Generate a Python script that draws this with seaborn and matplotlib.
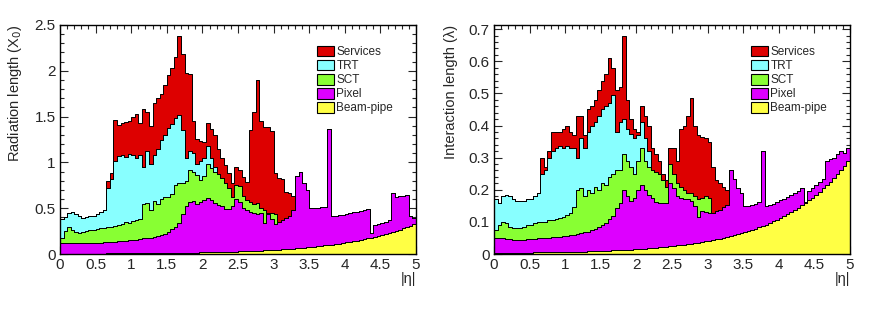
import numpy as np
import pandas as pd
import matplotlib
matplotlib.use("Agg")
import matplotlib.pyplot as plt
from matplotlib.patches import Patch
from matplotlib.ticker import MultipleLocator, FormatStrFormatter
import seaborn as sns

# Cumulative tops of each stacked layer, in bins of 0.05 in |eta| (0 -> 5).
# Upper layers stop where they end; beyond that they sit on the layer below.
layers = ["Services", "TRT", "SCT", "Pixel", "Beam-pipe"]
colors = ["#dd0000", "#88ffff", "#88ff33", "#dd00ff", "#ffff44"]

# ---- Radiation length (X0) ----
rad_beam = [0.0045, 0.0045, 0.0045, 0.0045, 0.0045, 0.0045, 0.0045, 0.0045, 0.005, 0.005,
            0.0052, 0.0053, 0.0054, 0.0056, 0.0057, 0.0059, 0.0061, 0.0063, 0.0065, 0.0068,
            0.0071, 0.0073, 0.0077, 0.008, 0.0083, 0.0087, 0.0091, 0.0095, 0.0099, 0.0104,
            0.0108, 0.0113, 0.0118, 0.0124, 0.0129, 0.0135, 0.0142, 0.0149, 0.0156, 0.0164,
            0.0173, 0.0182, 0.0191, 0.0201, 0.0212, 0.0223, 0.0234, 0.0245, 0.0258, 0.027,
            0.0284, 0.0298, 0.0313, 0.0329, 0.0345, 0.0363, 0.0381, 0.0402, 0.0422, 0.0443,
            0.0466, 0.0489, 0.0514, 0.054, 0.0568, 0.0596, 0.0627, 0.0659, 0.0693, 0.0728,
            0.0765, 0.0804, 0.0846, 0.0889, 0.0934, 0.0982, 0.1032, 0.1085, 0.1141, 0.1199,
            0.126, 0.1324, 0.1393, 0.1464, 0.1539, 0.1618, 0.17, 0.1788, 0.1879, 0.1976,
            0.2077, 0.2183, 0.2295, 0.2413, 0.2537, 0.2666, 0.2803, 0.2948, 0.3098, 0.3257]
rad_pixel = [0.12, 0.12, 0.12, 0.12, 0.12, 0.115, 0.115, 0.12, 0.12, 0.12,
             0.125, 0.125, 0.13, 0.13, 0.13, 0.135, 0.14, 0.14, 0.145, 0.15,
             0.15, 0.155, 0.16, 0.17, 0.175, 0.18, 0.19, 0.20, 0.21, 0.22,
             0.24, 0.27, 0.30, 0.34, 0.44, 0.52, 0.57, 0.58, 0.55, 0.57,
             0.59, 0.61, 0.59, 0.56, 0.53, 0.52, 0.49, 0.49, 0.52, 0.60,
             0.57, 0.50, 0.48, 0.46, 0.45, 0.44, 0.45, 0.34, 0.44, 0.38,
             0.33, 0.35, 0.37, 0.39, 0.42, 0.48, 0.85, 0.90, 0.78, 0.70,
             0.50, 0.50, 0.50, 0.51, 0.51, 1.37, 0.42, 0.42, 0.43, 0.43,
             0.44, 0.45, 0.46, 0.46, 0.47, 0.48, 0.49, 0.23, 0.32, 0.33,
             0.34, 0.35, 0.37, 0.67, 0.62, 0.63, 0.63, 0.64, 0.41, 0.39]
rad_sct = [0.18, 0.25, 0.30, 0.26, 0.24, 0.23, 0.24, 0.25, 0.26, 0.26,
           0.27, 0.28, 0.28, 0.29, 0.30, 0.31, 0.32, 0.33, 0.35, 0.34,
           0.36, 0.37, 0.38, 0.55, 0.56, 0.48, 0.58, 0.55, 0.60, 0.62,
           0.62, 0.65, 0.75, 0.77, 0.78, 0.80, 0.92, 0.90, 0.86, 0.81,
           0.85, 0.98, 0.94, 0.90, 0.87, 0.83, 0.78, 0.72, 0.62, 0.75,
           0.74, 0.63, 0.59, 0.57, 0.55, 0.56, 0.50, 0.48, 0.45, 0.45,
           0.44]
rad_trt = [0.38, 0.40, 0.45, 0.46, 0.44, 0.41, 0.39, 0.40, 0.41, 0.42,
           0.44, 0.46, 0.48, 0.72, 0.82, 1.02, 1.07, 1.08, 1.06, 1.09,
           1.08, 1.05, 1.08, 0.95, 1.12, 0.98, 1.08, 1.15, 1.25, 1.30,
           1.38, 1.42, 1.48, 1.52, 1.35, 1.05, 1.12, 1.10, 0.98, 1.02,
           1.05, 1.18, 1.05, 0.95]
rad_services = [0.38, 0.40, 0.45, 0.46, 0.44, 0.41, 0.39, 0.40, 0.41, 0.42,
                0.44, 0.46, 0.48, 0.80, 0.88, 1.46, 1.41, 1.43, 1.44, 1.45,
                1.50, 1.53, 1.43, 1.58, 1.55, 1.40, 1.65, 1.70, 1.75, 1.85,
                1.95, 2.03, 2.15, 2.38, 2.18, 1.98, 1.97, 1.45, 1.26, 1.23,
                1.22, 1.43, 1.36, 1.30, 1.15, 1.05, 0.97, 0.88, 0.78, 0.95,
                0.92, 0.84, 0.79, 1.35, 1.55, 1.90, 1.45, 1.39, 1.39, 1.34,
                0.88, 0.83, 0.82, 0.68, 0.67, 0.63]

# ---- Interaction length (lambda) ----
int_beam = [0.004, 0.004, 0.004, 0.004, 0.004, 0.004, 0.004, 0.004, 0.0045, 0.0045,
            0.0046, 0.0047, 0.0048, 0.005, 0.0051, 0.0052, 0.0054, 0.0056, 0.0058, 0.006,
            0.0063, 0.0065, 0.0068, 0.0071, 0.0074, 0.0077, 0.0081, 0.0084, 0.0088, 0.0092,
            0.0096, 0.010, 0.0105, 0.011, 0.0115, 0.012, 0.0126, 0.0132, 0.0139, 0.0146,
            0.0154, 0.0162, 0.017, 0.0179, 0.0188, 0.0198, 0.0208, 0.0218, 0.0229, 0.024,
            0.0252, 0.0265, 0.0278, 0.0292, 0.0307, 0.0323, 0.0339, 0.0357, 0.0375, 0.0394,
            0.0414, 0.0435, 0.0457, 0.048, 0.0505, 0.053, 0.0557, 0.0586, 0.0616, 0.0647,
            0.068, 0.0715, 0.0752, 0.079, 0.083, 0.0873, 0.0917, 0.0964, 0.1014, 0.1066,
            0.112, 0.1177, 0.1238, 0.1301, 0.1368, 0.1438, 0.1511, 0.1589, 0.167, 0.1756,
            0.1846, 0.194, 0.204, 0.2145, 0.2255, 0.237, 0.2492, 0.262, 0.2754, 0.2895]
int_pixel = [0.049, 0.049, 0.049, 0.048, 0.047, 0.045, 0.044, 0.044, 0.045, 0.046,
             0.047, 0.048, 0.049, 0.049, 0.050, 0.051, 0.052, 0.053, 0.054, 0.055,
             0.056, 0.058, 0.060, 0.062, 0.064, 0.067, 0.070, 0.074, 0.078, 0.083,
             0.090, 0.098, 0.108, 0.118, 0.142, 0.158, 0.20, 0.18, 0.165, 0.175,
             0.20, 0.215, 0.20, 0.185, 0.175, 0.162, 0.158, 0.16, 0.16, 0.22,
             0.205, 0.18, 0.175, 0.17, 0.17, 0.165, 0.15, 0.116, 0.135, 0.13,
             0.127, 0.128, 0.133, 0.138, 0.145, 0.153, 0.26, 0.235, 0.205, 0.19,
             0.148, 0.151, 0.154, 0.157, 0.162, 0.32, 0.148, 0.152, 0.157, 0.162,
             0.167, 0.172, 0.178, 0.184, 0.19, 0.197, 0.205, 0.162, 0.196, 0.205,
             0.215, 0.225, 0.235, 0.29, 0.295, 0.30, 0.31, 0.322, 0.315, 0.33]
int_sct = [0.075, 0.09, 0.10, 0.095, 0.085, 0.08, 0.08, 0.08, 0.085, 0.09,
           0.09, 0.095, 0.10, 0.10, 0.10, 0.105, 0.106, 0.11, 0.112, 0.115,
           0.12, 0.127, 0.145, 0.20, 0.205, 0.18, 0.20, 0.19, 0.21, 0.20,
           0.22, 0.215, 0.24, 0.25, 0.26, 0.26, 0.31, 0.29, 0.27, 0.25,
           0.29, 0.33, 0.29, 0.27, 0.26, 0.255, 0.25, 0.23, 0.21, 0.28,
           0.25, 0.22, 0.21, 0.20, 0.19, 0.19, 0.18, 0.17, 0.175, 0.18,
           0.175]
int_trt = [0.17, 0.16, 0.18, 0.185, 0.18, 0.17, 0.165, 0.165, 0.165, 0.17,
           0.17, 0.18, 0.19, 0.25, 0.26, 0.30, 0.32, 0.33, 0.335, 0.33,
           0.335, 0.33, 0.33, 0.30, 0.36, 0.33, 0.38, 0.40, 0.41, 0.43,
           0.45, 0.46, 0.47, 0.495, 0.38, 0.41, 0.42, 0.39, 0.375, 0.36,
           0.37, 0.41, 0.36, 0.32]
int_services = [0.17, 0.16, 0.18, 0.185, 0.18, 0.17, 0.165, 0.165, 0.165, 0.17,
                0.17, 0.18, 0.19, 0.30, 0.27, 0.32, 0.38, 0.38, 0.38, 0.39,
                0.40, 0.38, 0.37, 0.43, 0.43, 0.37, 0.45, 0.46, 0.48, 0.51,
                0.54, 0.56, 0.61, 0.58, 0.51, 0.52, 0.68, 0.48, 0.42, 0.39,
                0.38, 0.46, 0.43, 0.40, 0.33, 0.31, 0.29, 0.25, 0.23, 0.33,
                0.33, 0.29, 0.39, 0.40, 0.43, 0.485, 0.40, 0.37, 0.365, 0.36,
                0.35, 0.27, 0.23, 0.22, 0.21, 0.20]

edges = np.linspace(0, 5, 101)
centers = 0.5 * (edges[:-1] + edges[1:])


def layer_table(beam, pixel, sct, trt, services):
    # pad each upper layer with the one below, then take differences
    tops = [np.asarray(beam, float)]
    for arr in [pixel, sct, trt, services]:
        arr = np.asarray(arr, float)
        below = tops[-1]
        full = np.concatenate([arr, below[len(arr):]])
        tops.append(np.maximum(full, below))
    rows = []
    names = ["Beam-pipe", "Pixel", "SCT", "TRT", "Services"]
    lower = np.zeros_like(centers)
    for name, top in zip(names, tops):
        rows.append(pd.DataFrame({"eta": centers, "thickness": top - lower, "layer": name}))
        lower = top
    return pd.concat(rows, ignore_index=True)


sns.set_style("ticks")
plt.rcParams["font.family"] = ["Liberation Sans", "DejaVu Sans"]

fig = plt.figure(figsize=(8.92, 3.19), dpi=100)
ax1 = fig.add_axes([60 / 892, 65 / 319, 356 / 892, 229 / 319])
ax2 = fig.add_axes([494 / 892, 65 / 319, 356 / 892, 229 / 319])

panels = [
    (ax1, layer_table(rad_beam, rad_pixel, rad_sct, rad_trt, rad_services),
     "Radiation length (X$_0$)", 2.5, 0.5, 0.1),
    (ax2, layer_table(int_beam, int_pixel, int_sct, int_trt, int_services),
     "Interaction length (λ)", 0.713, 0.1, 0.02),
]

for ax, df, ylabel, ymax, ymaj, ymin in panels:
    sns.histplot(data=df, x="eta", weights="thickness", hue="layer",
                 hue_order=layers, palette=colors, multiple="stack",
                 bins=edges.tolist(), element="step", alpha=1, edgecolor="black",
                 linewidth=0.7, legend=False, ax=ax)
    ax.set_xlim(0, 5)
    ax.set_ylim(0, ymax)
    ax.xaxis.set_major_locator(MultipleLocator(0.5))
    ax.xaxis.set_minor_locator(MultipleLocator(0.1))
    ax.yaxis.set_major_locator(MultipleLocator(ymaj))
    ax.yaxis.set_minor_locator(MultipleLocator(ymin))
    ax.xaxis.set_major_formatter(FormatStrFormatter("%g"))
    ax.yaxis.set_major_formatter(FormatStrFormatter("%g"))
    ax.tick_params(which="both", direction="in", top=True, right=True,
                   labelsize=11, width=0.8, pad=3)
    ax.tick_params(which="major", length=6)
    ax.tick_params(which="minor", length=3)
    for sp in ax.spines.values():
        sp.set_linewidth(1.0)
        sp.set_color("black")
    ax.set_xlabel("|η|", fontsize=10.5, loc="right")
    ax.xaxis.set_label_coords(1.0, -0.08)
    ax.set_ylabel(ylabel, fontsize=10.5, loc="top")
    ax.yaxis.set_label_coords(-0.1, 1.0)

    handles = [Patch(facecolor=c, edgecolor="black", linewidth=0.8, label=n)
               for n, c in zip(layers, colors)]
    ax.legend(handles=handles, loc="upper left", bbox_to_anchor=(0.71, 0.93),
              frameon=False, fontsize=8.5, handlelength=1.4, handleheight=1.0,
              handletextpad=0.2, labelspacing=0.15, borderaxespad=0)

fig.savefig("out.png", dpi=100)
